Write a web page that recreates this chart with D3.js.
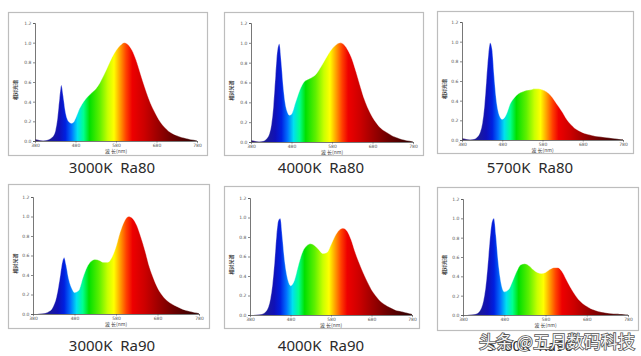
<!DOCTYPE html>
<html><head><meta charset="utf-8">
<script src="https://cdn.jsdelivr.net/npm/d3@7"></script>
<style>html,body{margin:0;padding:0;background:#fff;}svg{display:block;}</style>
</head><body>
<svg id="c" width="641" height="356"></svg>
<script>
// ---- data ----
const wavelengths = [380,390,400,410,420,425,430,435,440,445,450,455,460,465,470,475,480,490,500,510,520,530,540,550,560,570,580,590,600,610,620,630,640,650,660,670,680,690,700,710,720,730,740,750,760,770,780];
const spd3000Ra80 = [0.02,0.01,0.005,0.01,0.03,0.05,0.10,0.22,0.42,0.57,0.45,0.30,0.22,0.19,0.18,0.19,0.23,0.33,0.40,0.45,0.49,0.53,0.59,0.67,0.76,0.85,0.92,0.97,1.0,0.98,0.92,0.82,0.69,0.56,0.44,0.34,0.26,0.19,0.14,0.10,0.075,0.055,0.04,0.03,0.02,0.012,0.006];
const spd4000Ra80 = [0.02,0.01,0.005,0.01,0.04,0.08,0.17,0.35,0.65,0.92,0.99,0.80,0.55,0.38,0.30,0.27,0.28,0.40,0.52,0.60,0.63,0.65,0.68,0.74,0.81,0.88,0.94,0.98,1.0,0.98,0.92,0.83,0.70,0.56,0.43,0.33,0.25,0.19,0.14,0.11,0.085,0.06,0.045,0.03,0.02,0.012,0.006];
const spd5700Ra80 = [0.02,0.01,0.005,0.01,0.04,0.08,0.16,0.32,0.58,0.85,0.99,0.92,0.65,0.42,0.29,0.23,0.21,0.26,0.37,0.43,0.47,0.49,0.505,0.51,0.52,0.52,0.51,0.49,0.455,0.40,0.34,0.28,0.21,0.16,0.12,0.095,0.075,0.06,0.05,0.04,0.035,0.03,0.025,0.02,0.015,0.01,0.008];
const spd3000Ra90 = [0.0,0.0,0.005,0.01,0.03,0.05,0.09,0.15,0.25,0.38,0.52,0.58,0.50,0.38,0.30,0.25,0.22,0.24,0.37,0.48,0.54,0.56,0.55,0.53,0.53,0.58,0.69,0.84,0.95,1.0,0.98,0.91,0.79,0.65,0.49,0.37,0.27,0.20,0.15,0.115,0.09,0.07,0.05,0.035,0.025,0.015,0.008];
const spd4000Ra90 = [0.0,0.0,0.005,0.01,0.04,0.08,0.16,0.30,0.52,0.80,0.97,0.99,0.80,0.58,0.43,0.34,0.30,0.36,0.52,0.65,0.71,0.73,0.71,0.67,0.63,0.64,0.72,0.81,0.87,0.89,0.86,0.77,0.64,0.53,0.43,0.34,0.26,0.20,0.15,0.115,0.09,0.07,0.05,0.04,0.03,0.02,0.01];
const spd5700Ra90 = [0.0,0.0,0.005,0.01,0.04,0.08,0.16,0.30,0.52,0.78,0.96,1.0,0.82,0.57,0.39,0.28,0.24,0.26,0.35,0.45,0.52,0.53,0.51,0.47,0.44,0.43,0.44,0.47,0.49,0.49,0.45,0.37,0.29,0.22,0.16,0.12,0.09,0.065,0.05,0.035,0.028,0.02,0.015,0.012,0.01,0.008,0.005];
const panelTitles = ["3000K  Ra80","4000K  Ra80","5700K  Ra80","3000K  Ra90","4000K  Ra90","5700K  Ra90"];
const panelSeries = [spd3000Ra80, spd4000Ra80, spd5700Ra80, spd3000Ra90, spd4000Ra90, spd5700Ra90];
const xTicks = [380,480,580,680,780];
const yTicks = [0,0.2,0.4,0.6,0.8,1.0,1.2];
const yAxisLabel = "相对光谱";
const xAxisLabel = "波 长(nm)";
const watermark = "头条 @五月数码科技";

// spectrum colour stops (wavelength -> colour)
const specW = [380,420,440,455,470,485,500,515,540,560,575,590,605,620,650,680,720,780];
const specC = ["#2a1070","#1a1a98","#1010b8","#0020e0","#0070ff","#00e0f0","#00ff90","#00e000","#60f000","#c8ff00","#ffff00","#ffa000","#ff4000","#ee0000","#cc0000","#a00000","#6a0000","#2a0000"];

// ---- layout ----
const layout = [
  {fx:8,fy:12,fw:199,fh:143, x0:35,x1:197,yb:141,yt:23, cx:112,cy:168},
  {fx:224,fy:12,fw:199,fh:143, x0:251,x1:413,yb:142,yt:23, cx:321,cy:168},
  {fx:437,fy:11,fw:196,fh:142, x0:462,x1:623,yb:140,yt:22, cx:530,cy:168},
  {fx:8,fy:184,fw:201,fh:144, x0:33,x1:199,yb:314,yt:197, cx:112,cy:346},
  {fx:224,fy:186,fw:195,fh:142, x0:250,x1:412,yb:315,yt:198, cx:321,cy:346},
  {fx:437,fy:187,fw:201,fh:143, x0:463,x1:628,yb:315,yt:199, cx:530,cy:346}
];

const svg = d3.select("#c");
const defs = svg.append("defs");

layout.forEach((L, i) => {
  const g = svg.append("g");
  g.append("rect").attr("x",L.fx+0.5).attr("y",L.fy+0.5).attr("width",L.fw).attr("height",L.fh)
    .attr("fill","#fff").attr("stroke","#bdbdbd").attr("stroke-width",1.2);

  const x = d3.scaleLinear().domain([380,780]).range([L.x0,L.x1]);
  const y = d3.scaleLinear().domain([0,1.2]).range([L.yb,L.yt]);

  const gid = "spec"+i;
  const grad = defs.append("linearGradient").attr("id",gid)
    .attr("gradientUnits","userSpaceOnUse")
    .attr("x1",x(380)).attr("x2",x(780)).attr("y1",0).attr("y2",0);
  specW.forEach((w,k)=>grad.append("stop").attr("offset",(w-380)/400).attr("stop-color",specC[k]));

  const data = wavelengths.map((w,k)=>({w, v: panelSeries[i][k]}));
  const area = d3.area().x(d=>x(d.w)).y0(y(0)).y1(d=>y(d.v)).curve(d3.curveMonotoneX);
  g.append("path").datum(data).attr("d",area).attr("fill","url(#"+gid+")");
  const line = d3.line().x(d=>x(d.w)).y(d=>y(d.v)).curve(d3.curveMonotoneX);
  g.append("path").datum(data).attr("d",line).attr("fill","none")
    .attr("stroke","#fff").attr("stroke-opacity",0.35).attr("stroke-width",1);

  const ax = g.append("g").attr("transform",`translate(0,${L.yb})`)
    .call(d3.axisBottom(x).tickValues(xTicks).tickSize(1.5).tickPadding(1.5).tickFormat(d3.format("d")));
  const ay = g.append("g").attr("transform",`translate(${L.x0},0)`)
    .call(d3.axisLeft(y).tickValues(yTicks).tickSize(2).tickFormat(d3.format(".1f")));
  [ax,ay].forEach(a=>{
    a.select(".domain").attr("stroke","#555").attr("stroke-width",0.8);
    a.selectAll(".tick line").attr("stroke","#555").attr("stroke-width",0.7);
    a.selectAll(".tick text").attr("font-family","DejaVu Sans").attr("font-size",4.5).attr("fill","#555");
  });
  ay.selectAll(".tick text").attr("x",-3.5);

  g.append("text").attr("transform",`translate(${L.fx+9},${(L.yb+L.yt)/2+8}) rotate(-90)`)
    .attr("text-anchor","middle").attr("font-family","Noto Sans CJK SC").attr("font-size",5)
    .attr("font-weight","bold").attr("fill","#444").text(yAxisLabel);
  g.append("text").attr("x",(L.x0+L.x1)/2).attr("y",L.yb+12)
    .attr("text-anchor","middle").attr("font-family","Noto Sans CJK SC").attr("font-size",5)
    .attr("fill","#444").style("white-space","pre").text(xAxisLabel);

  svg.append("text").attr("x",L.cx).attr("y",L.cy).attr("dy","0.36em")
    .attr("text-anchor","middle").attr("font-family","Noto Sans").attr("font-size",15)
    .attr("fill","#2a2a2a").style("white-space","pre").text(panelTitles[i]);
});

svg.append("text").attr("x",557).attr("y",341.5).attr("dy","0.36em").attr("text-anchor","middle")
  .attr("font-family","Noto Sans CJK SC").attr("font-size",17)
  .attr("fill","#f4f4f4").attr("stroke","#555").attr("stroke-width",1.6)
  .attr("paint-order","stroke").text(watermark);
</script>
</body></html>
